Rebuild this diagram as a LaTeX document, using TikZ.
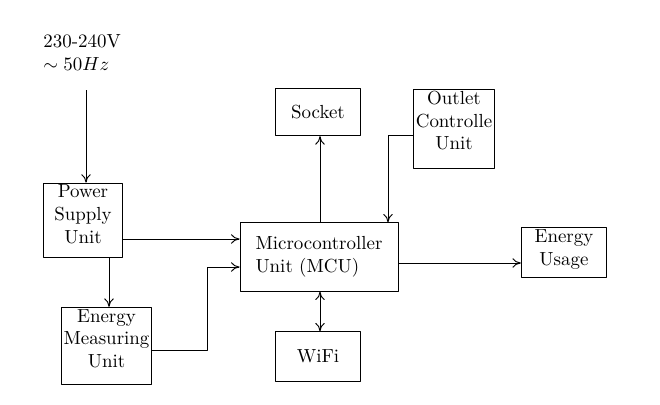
\documentclass[tikz,border=0pt]{standalone}
\usetikzlibrary{arrows.meta}
\begin{document}
\begin{tikzpicture}[>={Computer Modern Rightarrow[length=4.5pt,width=5pt]},line join=round,line width=0.5pt,x=0.018557cm,y=-0.018557cm]
	\tikzset{block/.style={draw,align=center,inner sep=1pt}}
	\useasboundingbox (0,0) rectangle (660,405);
	% Nguồn điện
	\node[anchor=north west,align=left,inner sep=0pt] (ac) at (43,34) {230-240V\\$\sim 50Hz$};
	\coordinate (acin) at (86,90);
	% Các khối
	\node[block,minimum width=42pt,text depth=6.6pt] (psu) at (83,220.5) {Power\\Supply\\Unit};
	\node[block,minimum width=48pt,text depth=8pt] (emu) at (106.5,346) {Energy\\Measuring\\Unit};
	\node[block,align=left,minimum width=83.4pt,minimum height=36pt] (mcu) at (319,257) {Microcontroller\\ Unit (MCU)};
	\node[block,minimum width=45pt,minimum height=25pt] (socket) at (318,112) {Socket};
	\node[block,minimum width=43pt,text depth=9pt] (outlet) at (454,129) {Outlet\\Controlle\\Unit};
	\node[block,minimum width=45pt,text depth=5.2pt] (usage) at (564,252.5) {Energy\\Usage};
	\node[block,minimum width=45pt,minimum height=26pt] (wifi) at (318,356.5) {WiFi};
	% Mũi tên
	\draw[->] (acin) -- (acin |- psu.north);
	\draw[->] (psu.east |- 0,239) -- (mcu.west |- 0,239);
	\draw[->] (psu.south -| 109,0) -- (emu.north -| 109,0);
	\draw[->] (emu.east |- 0,350) -| (207,267) -- (mcu.west |- 0,267);
	\draw[->] (mcu.north -| 320,0) -- (socket.south -| 320,0);
	\draw[->] (outlet.west |- 0,135) -| (mcu.north -| 388,0);
	\draw[->] (mcu.east |- 0,263) -- (usage.west |- 0,263);
	\draw[<->] (mcu.south -| 320,0) -- (wifi.north -| 320,0);
\end{tikzpicture}
\end{document}
